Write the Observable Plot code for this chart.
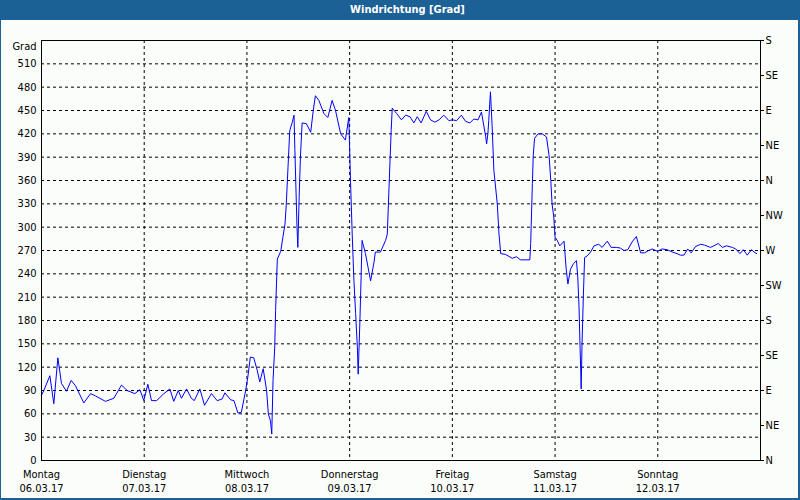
<!DOCTYPE html>
<html><head><meta charset="utf-8">
<script src="https://cdn.jsdelivr.net/npm/d3@7"></script>
<script src="https://cdn.jsdelivr.net/npm/@observablehq/plot@0.6"></script>
<style>
html,body{margin:0;padding:0;background:#fbfdfb;}
#frame{box-sizing:border-box;width:800px;height:500px;border-left:1px solid #1c6196;border-right:2px solid #1c6196;border-bottom:2px solid #1c6196;background:#fbfdfb;overflow:hidden;}
#title{height:20px;background:#1c6196;color:#fff;font:bold 11px "DejaVu Sans Condensed","DejaVu Sans",sans-serif;text-align:center;line-height:20px;padding-left:16px;box-sizing:border-box;}
#chart svg{display:block;}
</style>
</head><body>
<div id="frame"><div id="title">Windrichtung [Grad]</div><div id="chart"></div></div>
<script>
// Hours since Monday 06.03.17 00:00
const hours = [0,0.55,1.95,2.88,3.82,4.67,5.84,6.93,7.95,9.89,11.45,12.62,14.96,16.9,18.7,20.0,21.8,23.0,23.9,24.85,25.7,26.9,28.6,30.0,30.9,31.96,32.7,33.9,35.0,35.7,37.0,38.1,39.7,41.05,42.2,42.85,44.2,44.97,45.9,46.7,47.7,48.2,48.8,49.6,50.4,51.0,51.8,52.6,53.0,53.5,53.8,54.1,54.5,54.7,55.1,55.9,56.4,56.9,57.2,57.6,58.0,58.6,59.0,59.2,59.7,59.9,60.2,60.5,60.9,61.9,62.9,63.5,64.0,64.8,66.0,66.9,67.9,68.7,69.9,71.0,71.8,72.2,72.6,73.0,73.4,73.8,74.0,74.4,74.7,74.9,75.7,76.9,77.7,78.0,79.2,80.4,80.8,81.2,81.7,81.95,83.0,84.1,85.1,86.1,87.0,87.8,88.7,89.9,90.9,91.9,92.9,94.0,95.2,96.0,97.0,98.1,99.1,100.1,101.0,102.0,102.8,103.8,104.0,104.3,104.5,104.9,105.3,105.7,106.5,106.9,107.3,108.4,110.0,111.0,111.9,114.1,114.3,114.7,114.9,115.2,116.0,117.0,118.0,118.6,119.0,119.3,119.7,120.0,120.5,121.1,122.1,122.6,123.0,123.6,124.3,125.0,125.3,125.6,125.8,126.0,126.1,126.3,126.6,126.9,127.5,128.3,129.1,130.2,131.0,132.2,133.1,134.4,135.3,136.1,137.0,138.0,139.0,140.0,140.9,141.9,142.7,143.9,145.0,146.2,147.4,148.5,149.3,150.1,151.0,151.8,152.8,154.0,154.9,156.3,157.1,158.1,159.1,160.1,161.4,162.2,163.2,164.0,164.9,165.9,166.5,167.1];
// Wind direction in degrees
const degrees = [84,90,109,73,132,99,89,103,96,74,86,83,76,80,97,90,86,91,77,98,77,77,86,92,76,90,80,92,80,77,92,71,86,77,79,87,78,77,61,62,90,107,133,132,116,101,118,90,60,51,34,103,146,193,259,269,287,304,330,377,424,435,444,400,300,274,339,390,434,433,422,450,469,463,446,441,463,450,420,412,441,360,291,231,189,146,111,180,240,283,266,231,255,268,268,283,291,351,424,453,446,438,444,442,434,442,434,449,438,435,438,444,437,438,437,444,436,434,439,438,448,416,407,420,437,474,429,373,330,291,266,265,260,262,258,258,279,356,392,414,420,420,416,392,360,330,313,287,283,276,282,246,227,246,253,257,236,197,154,114,92,150,210,261,263,268,276,278,274,282,274,274,273,270,271,281,288,267,267,270,272,269,272,271,268,266,264,264,272,267,275,278,277,274,276,279,274,276,274,272,266,271,264,271,268,266];

const dayNames = ["Montag","Dienstag","Mittwoch","Donnerstag","Freitag","Samstag","Sonntag"];
const dayDates = ["06.03.17","07.03.17","08.03.17","09.03.17","10.03.17","11.03.17","12.03.17"];
const leftTicks = d3.range(0, 511, 30);
const rightTicks = d3.range(0, 541, 45);
const compass = ["N","NE","E","SE","S","SW","W","NW"];

const start = Date.UTC(2017, 2, 6);
const dayMs = 864e5;
const data = hours.map((h, i) => ({t: new Date(start + h * 3600e3), v: degrees[i]}));
const dayTicks = dayNames.map((_, i) => new Date(start + i * dayMs));
const dayIndex = d => Math.round((d - start) / dayMs);

const chart = Plot.plot({
  width: 797, height: 478,
  marginLeft: 40, marginRight: 38, marginTop: 20, marginBottom: 38,
  style: {background: "#fbfdfb", color: "#000", fontSize: "11px", fontFamily: "'DejaVu Sans Condensed','DejaVu Sans',sans-serif"},
  x: {type: "utc", domain: [new Date(start), new Date(start + 7 * dayMs)]},
  y: {domain: [0, 540]},
  marks: [
    Plot.gridY(leftTicks.slice(1), {stroke: "#000", strokeOpacity: 1, strokeDasharray: "3,3"}),
    Plot.gridX(dayTicks.slice(1), {stroke: "#000", strokeOpacity: 1, strokeDasharray: "3,3"}),
    Plot.line(data, {x: "t", y: "v", stroke: "#0000ff", strokeWidth: 1}),
    Plot.frame({stroke: "#000"}),
    Plot.axisY(leftTicks, {anchor: "left", tickSize: 0, tickPadding: 5, label: null}),
    Plot.axisY([540], {anchor: "left", tickSize: 0, tickPadding: 5, dy: 6, tickFormat: () => "Grad", label: null}),
    Plot.axisY(rightTicks, {anchor: "right", tickSize: 3, tickPadding: 2, tickFormat: v => compass[(v / 45) % 8], label: null}),
    Plot.axisX(dayTicks, {anchor: "bottom", tickSize: 0, tickPadding: 10, tickFormat: d => dayNames[dayIndex(d)], label: null}),
    Plot.axisX(dayTicks, {anchor: "bottom", tickSize: 0, tickPadding: 24, tickFormat: d => dayDates[dayIndex(d)], label: null})
  ]
});
document.getElementById("chart").appendChild(chart);
</script>
</body></html>
